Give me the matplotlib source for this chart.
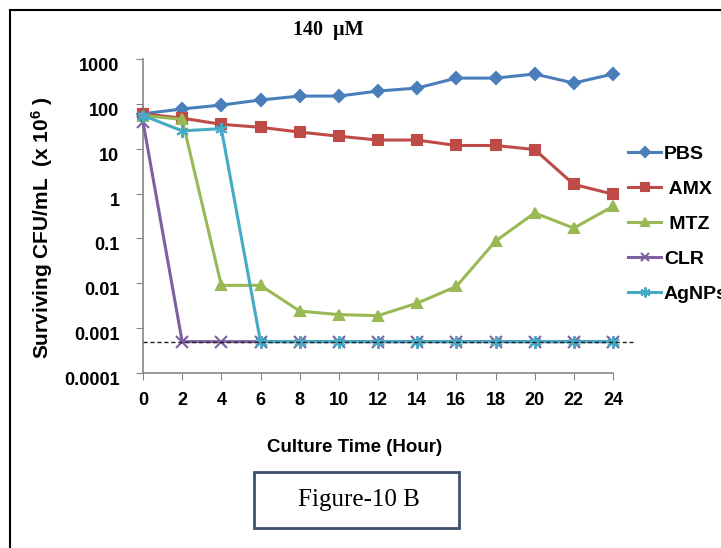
import numpy as np
import matplotlib
matplotlib.use('Agg')
import matplotlib.pyplot as plt
import matplotlib.transforms as mtransforms
from matplotlib.patches import Rectangle
from matplotlib.lines import Line2D

# Data (CFU/mL x 10^6)
hours = [0, 2, 4, 6, 8, 10, 12, 14, 16, 18, 20, 22, 24]
pbs   = [60, 77, 94, 122, 149, 149, 193, 225, 375, 375, 463, 291, 463]
amx   = [60, 48, 35, 30, 23.5, 19, 15.6, 15.6, 11.8, 11.8, 9.6, 1.6, 0.97]
mtz   = [55, 45, 0.009, 0.009, 0.0024, 0.002, 0.0019, 0.0036, 0.0085, 0.087, 0.37, 0.17, 0.52]
clr   = [40] + [0.0005] * 12
agnps = [55, 25, 28] + [0.0005] * 10
detect_limit = 0.0005

series_names = ['PBS', ' AMX', ' MTZ', 'CLR', 'AgNPs']
ytick_vals = [1e-4, 1e-3, 1e-2, 1e-1, 1, 10, 100, 1000]
ytick_labels = ['0.0001', '0.001', '0.01', '0.1', '1', '10', '100', '1000']

plt.rcParams['font.family'] = ['Liberation Sans', 'DejaVu Sans']
plt.rcParams['mathtext.default'] = 'regular'

W, H = 721, 548
fig = plt.figure(figsize=(W / 100, H / 100), dpi=100)
ax = fig.add_axes([143/W, 1 - 373/H, 470/W, 314/H])

colors = ['#4a7ebb', '#be4b48', '#98b954', '#7d60a0', '#46aac5']
markers = ['D', 's', '^', 'x', (6, 2, 0)]
msizes = [6, 7, 7, 8, 9]
for vals, name, c, m, ms in zip([pbs, amx, mtz, clr, agnps], series_names, colors, markers, msizes):
    ax.plot(hours, vals, color=c, lw=2.2, marker=m, ms=ms, mec=c, mew=1.5, label=name,
            clip_on=False, zorder=3)

ax.plot([0, 25], [detect_limit, detect_limit], color='#222222', ls=(0, (3, 2)), lw=1,
        clip_on=False, zorder=4)

ax.set_yscale('log')
ax.set_ylim(1e-4, 1e3)
ax.set_xlim(0, 24)
ax.set_yticks(ytick_vals)
ax.set_yticklabels(ytick_labels)
ax.minorticks_off()
ax.set_xticks(hours)
ax.set_xticklabels([str(h) for h in hours])
for s in ['top', 'right']:
    ax.spines[s].set_visible(False)
for s in ['left', 'bottom']:
    ax.spines[s].set_color('#868686')
    ax.spines[s].set_linewidth(1.2)
ax.tick_params(axis='both', direction='out', length=5, color='#868686', labelsize=13)
ax.tick_params(axis='x', pad=9)
ax.tick_params(axis='y', pad=12)
shift = mtransforms.ScaledTranslation(0, -4 / 72, fig.dpi_scale_trans)
for lab in ax.get_yticklabels():
    lab.set_transform(lab.get_transform() + shift)
for lab in ax.get_xticklabels() + ax.get_yticklabels():
    lab.set_fontweight('bold')

fig.text(42/W, 1 - 228/H, r'Surviving CFU/mL  (x 10$^{ 6}$ )', rotation=90,
         ha='center', va='center', fontsize=15, fontweight='bold')
fig.text(355/W, 1 - 448/H, 'Culture Time (Hour)', ha='center', va='center',
         fontsize=13.5, fontweight='bold')
fig.text(328/W, 1 - 30/H, '140  µM', ha='center', va='center', fontsize=14.5,
         fontweight='bold', family='Liberation Serif')

# legend (the last label runs off the right edge, as in the source image)
leg = fig.legend(loc='upper left', bbox_to_anchor=(628/W, 1 - 145/H), frameon=False,
                 prop={'weight': 'bold', 'size': 14}, handlelength=1.7,
                 handletextpad=0.15, labelspacing=0.9, borderaxespad=0, borderpad=0,
                 markerscale=0.8)

# figure caption box
fig.patches.append(Rectangle((254/W, 1 - 528/H), 205/W, 56/H, transform=fig.transFigure,
                             fill=False, edgecolor='#3f5170', lw=2))
fig.text(359/W, 1 - 500/H, 'Figure-10 B', ha='center', va='center', fontsize=18,
         family='Liberation Serif')

# outer frame
fig.add_artist(Line2D([10/W, 10/W], [0, 1 - 10/H], color='black', lw=1.5,
                      transform=fig.transFigure))
fig.add_artist(Line2D([10/W, 1], [1 - 10/H, 1 - 10/H], color='black', lw=1.5,
                      transform=fig.transFigure))

fig.savefig('out.png', dpi=100)
